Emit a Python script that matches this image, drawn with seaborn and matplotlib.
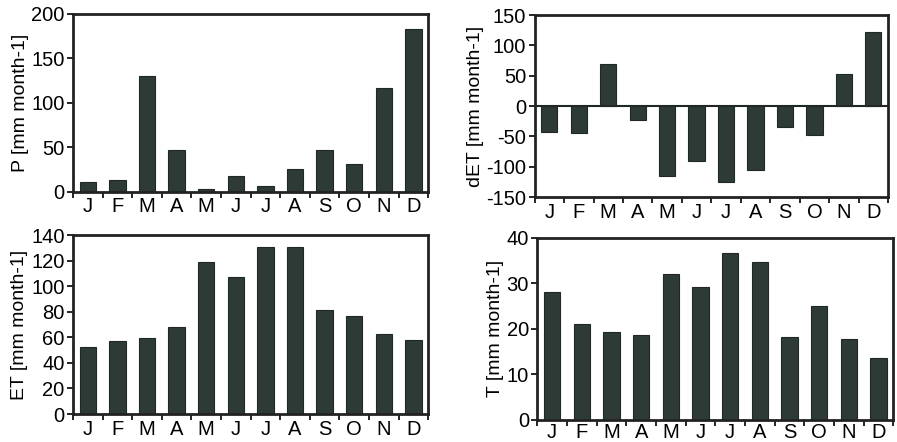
import numpy as np
import pandas as pd
import seaborn as sns
import matplotlib
matplotlib.use("Agg")
import matplotlib.pyplot as plt

#### Données
months = ["J", "F", "M", "A", "M", "J", "J", "A", "S", "O", "N", "D"]
P = [10.5, 13, 129.5, 46.5, 3.4, 18, 6.7, 26, 47, 31, 117, 183]
dET = [-42, -44, 70, -23, -116, -91, -125, -106, -35, -47, 53, 122]
ET = [52.5, 57, 59.5, 68, 119, 107, 130.5, 130.5, 81.5, 77, 62.5, 57.5]
T = [28.1, 21, 19.3, 18.7, 32, 29.2, 36.6, 34.7, 18.2, 25, 17.7, 13.6]

sns.set_theme(style="ticks")
plt.rcParams['font.family'] = ['Liberation Sans', 'DejaVu Sans']
plt.rcParams['text.color'] = 'black'
plt.rcParams['axes.labelcolor'] = 'black'
plt.rcParams['xtick.color'] = 'black'
plt.rcParams['ytick.color'] = 'black'
plt.rcParams['axes.unicode_minus'] = False

bar_color = "#2e3a35"

panels = [
    # (valeurs, label y, ylim, yticks, position axes)
    (P, "P [mm month-1]", (0, 200), [0, 50, 100, 150, 200], [0.0814, 0.566, 0.396, 0.403]),
    (dET, "dET [mm month-1]", (-150, 150), [-150, -100, -50, 0, 50, 100, 150], [0.596, 0.554, 0.394, 0.412]),
    (ET, "ET [mm month-1]", (0, 140), [0, 20, 40, 60, 80, 100, 120, 140], [0.0814, 0.0633, 0.396, 0.405]),
    (T, "T [mm month-1]", (0, 40), [0, 10, 20, 30, 40], [0.599, 0.0498, 0.397, 0.412]),
]

fig = plt.figure(figsize=(8.97, 4.42), dpi=100)

for i, (vals, ylab, ylim, yticks, pos) in enumerate(panels):
    ax = fig.add_axes(pos)
    df = pd.DataFrame({"x": np.arange(12), "v": vals})
    sns.barplot(data=df, x="x", y="v", color=bar_color, width=0.55,
                saturation=1, edgecolor="#1f2824", linewidth=0.8, ax=ax)
    if ylim[0] < 0:
        ax.axhline(0, color="#1f2824", lw=1.5, zorder=3)
    ax.set_xlim(-0.5, 11.5)
    ax.set_ylim(*ylim)
    ax.set_yticks(yticks)
    ax.set_xticks(np.arange(12))
    ax.set_xticklabels(months)
    ax.set_xticks(np.arange(-0.5, 12, 1), minor=True)
    ax.tick_params(axis="x", which="major", bottom=False, length=0, labelsize=14.5,
                   pad=2 if i == 3 else 4)
    ax.tick_params(axis="x", which="minor", bottom=True, length=4, width=1.2, direction="out")
    ax.tick_params(axis="y", left=True, length=4, width=1.2, direction="out", labelsize=14.5, pad=2)
    ax.set_xlabel("")
    ax.set_ylabel(ylab, fontsize=14, labelpad=2)
    for s in ax.spines.values():
        s.set_visible(True)
        s.set_linewidth(2)
        s.set_color("#222")

fig.savefig("out.png", dpi=100)
